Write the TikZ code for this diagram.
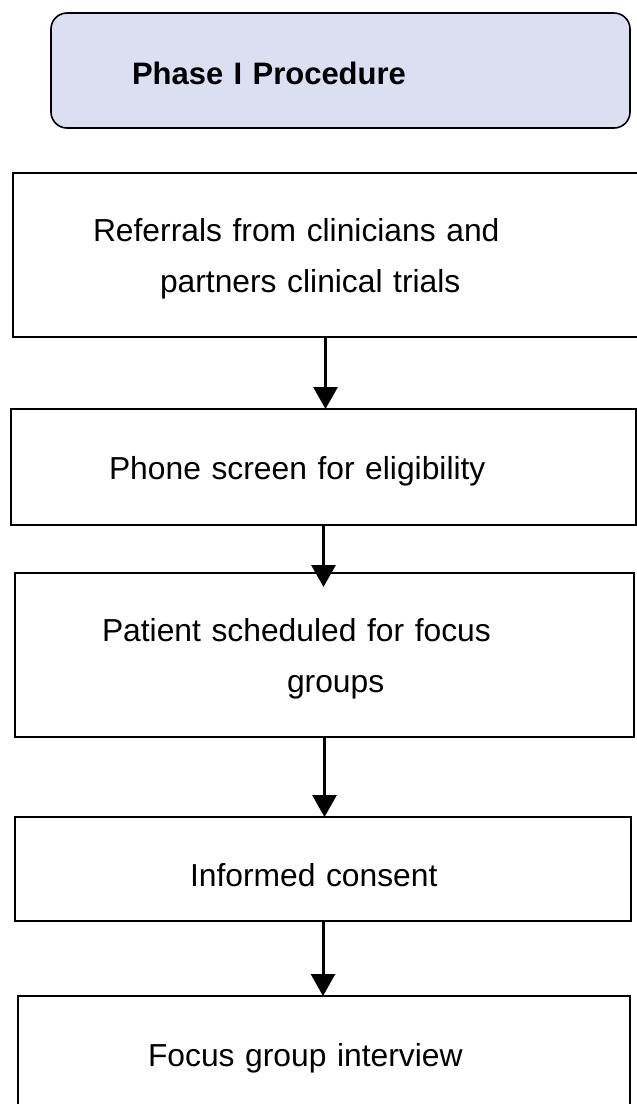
\documentclass[tikz,border=0pt]{standalone}
\usepackage{fontspec}
\setmainfont{Liberation Sans}
\usetikzlibrary{arrows.meta}

\definecolor{phasefill}{RGB}{218,224,242}

\tikzset{
  stepbox/.style={draw, rectangle, line width=1.6pt, outer sep=0pt, align=left,
    font=\fontsize{31.8}{51}\selectfont},
  phasebox/.style={stepbox, rounded corners=16pt, fill=phasefill, line width=1.6pt,
    font=\fontsize{31}{40}\selectfont\bfseries},
  flow/.style={line width=3pt, -{Triangle[width=24pt,length=22pt]}}
}

\begin{document}
\begin{tikzpicture}[x=1pt,y=-1pt]

\useasboundingbox (0,0) rectangle (637,1104);
\clip (0,0) rectangle (637,1104);

%% boxes
\node[phasebox, minimum height=115pt, inner xsep=81pt, text width=417pt, text height=27pt, text depth=0pt] (phase) at (340.5,70.5) {Phase I Procedure};
\node[stepbox, minimum height=164pt, inner xsep=80pt, text width=465pt] (referral) at (325.5,255) {\rule{0pt}{31.5pt}Referrals from clinicians and\\\hspace*{67pt}partners clinical trials};
\node[stepbox, minimum height=116pt, inner xsep=98pt, text width=429pt, text height=24pt, text depth=0pt] (phone) at (323.5,467) {Phone screen for eligibility};
\node[stepbox, minimum height=164pt, inner xsep=87pt, text width=445pt] (scheduled) at (324.5,655) {\rule{0pt}{31.5pt}Patient scheduled for focus\\\hspace*{185pt}groups};
\node[stepbox, minimum height=104pt, inner xsep=175pt, text width=266pt, text height=34pt, text depth=0pt] (consent) at (323,869) {Informed consent};
\node[stepbox, minimum height=124pt, inner xsep=130pt, text width=352pt] (interview) at (324,1058) {Focus group interview};

%% arrows
\draw[flow] (referral.south) -- (referral.south |- phone.north);              %% referral -> phone
\draw[flow] (phone.south) -- ([yshift=-14pt]phone.south |- scheduled.north);   %% phone -> scheduled
\draw[flow] (scheduled.south) -- (scheduled.south |- consent.north);           %% scheduled -> consent
\draw[flow] (consent.south) -- (consent.south |- interview.north);             %% consent -> interview

\end{tikzpicture}
\end{document}
